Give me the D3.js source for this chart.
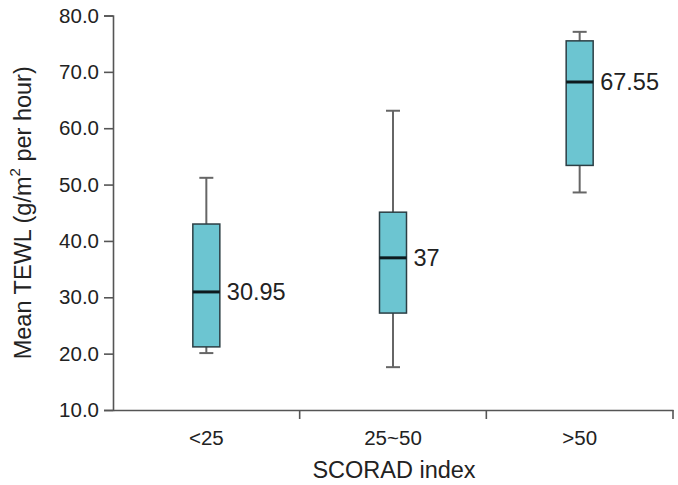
<!DOCTYPE html>
<html><head><meta charset="utf-8">
<script src="https://cdn.jsdelivr.net/npm/d3@7"></script>
<style>body{margin:0;background:#fff}svg{display:block}text{font-family:"Liberation Sans",Arial,sans-serif}</style>
</head><body><svg id="c" width="678" height="485"></svg>
<script>
const categories = ["<25", "25~50", ">50"];
const whiskerLow = [20.1, 17.6, 48.6];
const q1 = [21.2, 27.2, 53.4];
const median = [30.95, 37, 68.2];
const q3 = [43.0, 45.1, 75.5];
const whiskerHigh = [51.2, 63.1, 77.1];
const medianLabels = ["30.95", "37", "67.55"];
const yTicks = [10, 20, 30, 40, 50, 60, 70, 80];

(function () {
const svg = d3.select("#c");
const mLeft = 113, mRight = 673, mTop = 15.5, mBottom = 410;
const x = d3.scaleBand().domain(categories).range([mLeft, mRight]).padding(0);
const y = d3.scaleLinear().domain([10, 80]).range([mBottom, mTop]);
const axisColor = "#555";
const ff = '"Liberation Sans",Arial,sans-serif';
const txt = "#222";

// y axis
const ya = svg.append("g").attr("transform", `translate(${mLeft},0)`)
  .call(d3.axisLeft(y).tickValues(yTicks).tickFormat(d3.format(".1f")).tickSizeOuter(0).tickSize(9).tickPadding(5));
ya.select(".domain").attr("stroke", axisColor).attr("stroke-width", 1.6);
ya.selectAll(".tick line").attr("stroke", axisColor).attr("stroke-width", 1.6);
ya.selectAll(".tick text").attr("font-size", 20.5).attr("fill", txt).attr("font-family", ff);

// x axis
const xa = svg.append("g").attr("transform", `translate(0,${mBottom})`)
  .call(d3.axisBottom(x).tickSize(0).tickPadding(20).tickSizeOuter(0));
xa.select(".domain").attr("stroke", axisColor).attr("stroke-width", 1.6);
xa.selectAll(".tick text").attr("font-size", 20.5).attr("fill", txt).attr("font-family", ff);
categories.forEach(c => {
  const xb = x(c) + x.bandwidth();
  svg.append("line").attr("x1", xb).attr("x2", xb).attr("y1", mBottom).attr("y2", mBottom + 9)
    .attr("stroke", axisColor).attr("stroke-width", 1.6);
});

// axis titles
svg.append("text").attr("x", (mLeft + mRight) / 2 + 1).attr("y", 478).attr("text-anchor", "middle")
  .attr("font-size", 23.5).attr("fill", txt).text("SCORAD index");
const yt = svg.append("text").attr("transform", `translate(31,${(mTop + mBottom) / 2}) rotate(-90)`)
  .attr("text-anchor", "middle").attr("font-size", 23.5).attr("fill", txt);
yt.append("tspan").text("Mean TEWL (g/m");
yt.append("tspan").attr("dy", -11).attr("font-size", 15).text("2");
yt.append("tspan").attr("dy", 11).text(" per hour)");

// boxes
const bw = 27, cap = 14;
categories.forEach((c, i) => {
  const cx = x(c) + x.bandwidth() / 2;
  const g = svg.append("g");
  g.append("line").attr("x1", cx).attr("x2", cx).attr("y1", y(whiskerLow[i])).attr("y2", y(whiskerHigh[i]))
    .attr("stroke", "#666").attr("stroke-width", 2);
  [whiskerLow[i], whiskerHigh[i]].forEach(v => {
    g.append("line").attr("x1", cx - cap / 2).attr("x2", cx + cap / 2).attr("y1", y(v)).attr("y2", y(v))
      .attr("stroke", "#666").attr("stroke-width", 2);
  });
  g.append("rect").attr("x", cx - bw / 2).attr("y", y(q3[i])).attr("width", bw).attr("height", y(q1[i]) - y(q3[i]))
    .attr("fill", "#6cc5d1").attr("stroke", "#2c3e44").attr("stroke-width", 1.5);
  g.append("line").attr("x1", cx - bw / 2).attr("x2", cx + bw / 2).attr("y1", y(median[i])).attr("y2", y(median[i]))
    .attr("stroke", "#0d1a1e").attr("stroke-width", 3);
  g.append("text").attr("x", cx + bw / 2 + 7).attr("y", y(median[i])).attr("dy", "0.36em")
    .attr("font-size", 23.5).attr("fill", txt).text(medianLabels[i]);
});
})();
</script></body></html>
